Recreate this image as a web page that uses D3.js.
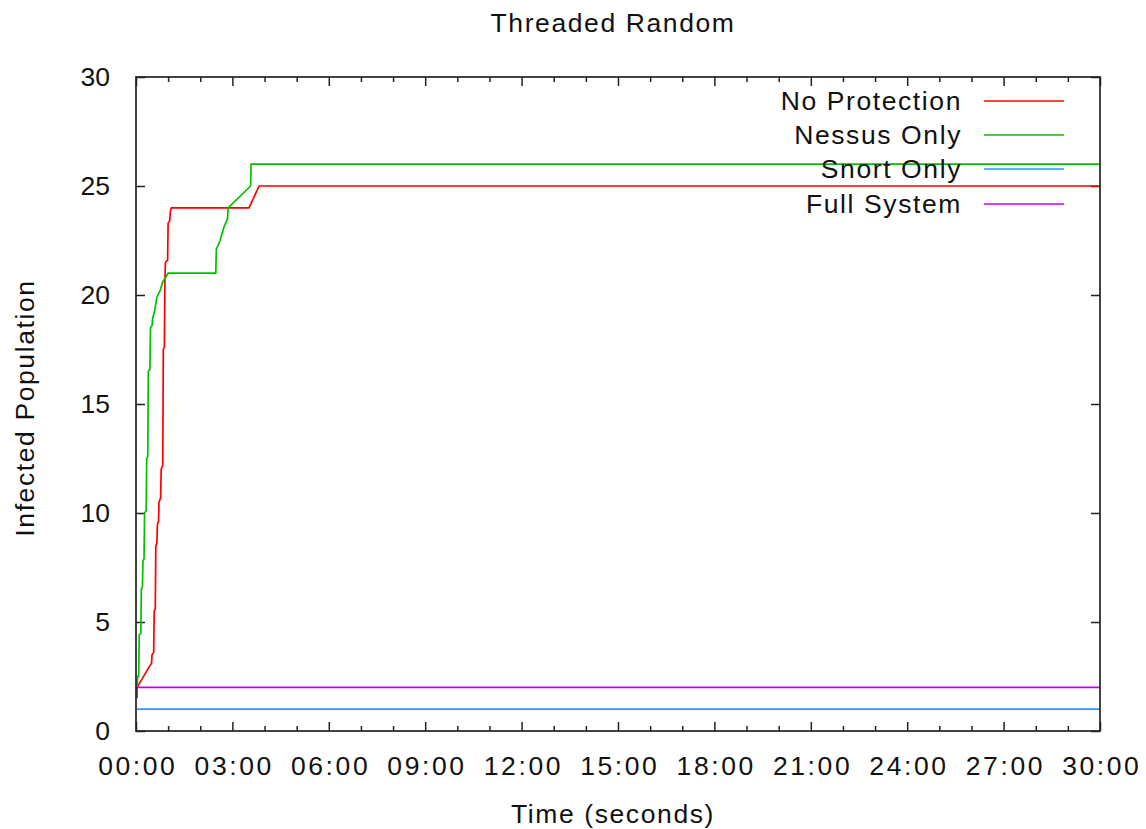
<!DOCTYPE html>
<html>
<head>
<meta charset="utf-8">
<script src="https://cdn.jsdelivr.net/npm/d3@7"></script>
<style>
  html, body { margin: 0; padding: 0; background: #fff; }
  svg text { font-family: "Liberation Sans", Arial, sans-serif; fill: #111; }
</style>
</head>
<body>
<svg id="chart" width="1146" height="829"></svg>
<script>
// Infection spread over time, threaded random scanning worm.
// Time in seconds, values = number of infected hosts.
const seriesNames = ["No Protection", "Nessus Only", "Snort Only", "Full System"];
const seriesColors = ["#ff0000", "#00c000", "#3094ff", "#c000ff"];

const noProtection = [
  [2, 2], [26, 3], [29, 3.1], [30, 3.5], [33, 3.6], [34, 5.5], [36, 5.6],
  [37, 8.5], [39, 8.6], [40, 9.5], [42, 9.6], [43, 10.5], [46, 10.7],
  [47, 12], [50, 12.2], [51, 17.5], [53, 17.6], [54, 20.7], [55, 21.5],
  [59, 21.6], [60, 23.3], [63, 23.4], [64, 23.8], [66, 24], [211, 24],
  [230, 25], [1800, 25]
];
const nessusOnly = [
  [2, 1.9], [3, 2.5], [5, 2.5], [6, 4.4], [9, 4.5], [10, 6.5], [12, 6.6],
  [13, 7.8], [15, 7.9], [16, 10], [19, 10.1], [20, 12.5], [22, 12.6],
  [23, 16.5], [26, 16.6], [27, 18.5], [30, 18.6], [31, 18.9], [35, 19.3],
  [39, 19.9], [45, 20.2], [50, 20.6], [60, 21], [149, 21], [150, 22.1],
  [157, 22.5], [164, 23.1], [171, 23.5], [172, 24], [214, 25], [215, 26],
  [1800, 26]
];
const snortOnly = [[2, 1], [1800, 1]];
const fullSystem = [[2, 1.5], [2, 2], [1800, 2]];

const seriesData = [noProtection, nessusOnly, snortOnly, fullSystem];

const xMajorTicks = d3.range(0, 1801, 180);
const xMinorTicks = d3.range(0, 1801, 60).filter(t => t % 180 !== 0);
const yTicks = [0, 5, 10, 15, 20, 25, 30];

const svg = d3.select("#chart");
const plotLeft = 136, plotRight = 1100, plotTop = 77, plotBottom = 731;

const x = d3.scaleLinear().domain([0, 1800]).range([plotLeft, plotRight]);
const y = d3.scaleLinear().domain([0, 30]).range([plotBottom, plotTop]);

const pad = n => String(n).padStart(2, "0");
const fmtTime = s => pad(Math.floor(s / 60)) + ":" + pad(Math.round(s % 60));

const fontSize = 26.5;
const spacing = "1.6px";

// Axes: ticks point inward and are mirrored on the opposite border
function styleAxis(g) {
  g.select(".domain").remove();
  g.selectAll(".tick line").attr("stroke", "#222").attr("stroke-width", 1.5);
  g.selectAll("text").style("font-size", fontSize + "px").attr("fill", "#111");
}

svg.append("g")
  .attr("transform", `translate(0,${plotBottom})`)
  .call(d3.axisBottom(x).tickValues(xMajorTicks).tickFormat(fmtTime).tickSize(-9).tickPadding(25))
  .call(styleAxis)
  .call(g => g.selectAll("text").style("letter-spacing", "2.6px").attr("dx", "1.3px"));
svg.append("g")
  .attr("transform", `translate(0,${plotBottom})`)
  .call(d3.axisBottom(x).tickValues(xMinorTicks).tickFormat("").tickSize(-5))
  .call(styleAxis);
svg.append("g")
  .attr("transform", `translate(0,${plotTop})`)
  .call(d3.axisTop(x).tickValues(xMajorTicks).tickFormat("").tickSize(-9))
  .call(styleAxis);
svg.append("g")
  .attr("transform", `translate(0,${plotTop})`)
  .call(d3.axisTop(x).tickValues(xMinorTicks).tickFormat("").tickSize(-5))
  .call(styleAxis);
svg.append("g")
  .attr("transform", `translate(${plotLeft},0)`)
  .call(d3.axisLeft(y).tickValues(yTicks).tickFormat(d3.format("d")).tickSize(-9).tickPadding(26))
  .call(styleAxis);
svg.append("g")
  .attr("transform", `translate(${plotRight},0)`)
  .call(d3.axisRight(y).tickValues(yTicks).tickFormat("").tickSize(-9))
  .call(styleAxis);

// Series lines
const line = d3.line().x(d => x(d[0])).y(d => y(d[1]));
seriesData.forEach((data, i) => {
  svg.append("path")
    .datum(data)
    .attr("fill", "none")
    .attr("stroke", seriesColors[i])
    .attr("stroke-width", 1.7)
    .attr("d", line);
});

// Frame
svg.append("rect")
  .attr("x", plotLeft).attr("y", plotTop)
  .attr("width", plotRight - plotLeft).attr("height", plotBottom - plotTop)
  .attr("fill", "none").attr("stroke", "#222").attr("stroke-width", 1.7);

// Legend, top right inside the plot
const legendY = [101, 135, 169, 204];
const legend = svg.append("g");
seriesNames.forEach((name, i) => {
  legend.append("text")
    .attr("x", 962).attr("y", legendY[i])
    .attr("dy", "0.35em")
    .attr("text-anchor", "end")
    .style("font-size", fontSize + "px")
    .style("letter-spacing", spacing)
    .text(name);
  legend.append("line")
    .attr("x1", 984).attr("x2", 1064)
    .attr("y1", legendY[i]).attr("y2", legendY[i])
    .attr("stroke", seriesColors[i]).attr("stroke-width", 1.7);
});

// Titles
function title(text, transform) {
  svg.append("text")
    .attr("transform", transform)
    .attr("text-anchor", "middle")
    .style("font-size", fontSize + "px")
    .style("letter-spacing", spacing)
    .text(text);
}
title("Threaded Random", "translate(613,32)");
title("Time (seconds)", "translate(613,823)");
title("Infected Population", "translate(34,408) rotate(-90)");
</script>
</body>
</html>
